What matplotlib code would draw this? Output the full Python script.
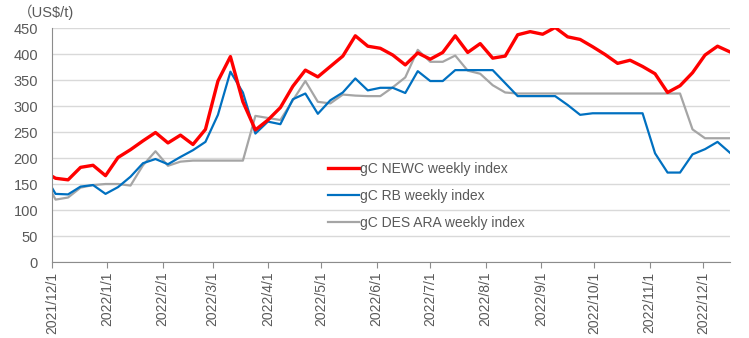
import numpy as np
import pandas as pd
import matplotlib
matplotlib.use('Agg')
import matplotlib.pyplot as plt
import matplotlib.dates as mdates
from matplotlib.ticker import FuncFormatter

plt.rcParams['font.family'] = ['Liberation Sans', 'DejaVu Sans']

# weekly index values (Fridays), first point falls just before the axis start
dates = pd.date_range('2021-11-26', '2022-12-16', freq='7D')

newc = [175, 161, 158, 182, 186, 166, 201, 216, 233, 249,
        229, 244, 226, 255, 348, 395, 308, 254, 273, 297,
        338, 369, 356, 376, 396, 435, 415, 411, 398, 379,
        402, 390, 403, 435, 403, 420, 392, 396, 437, 443,
        438, 451, 433, 428, 414, 399, 382, 388, 376, 362,
        326, 339, 364, 398, 415, 404]

rb = [172, 131, 130, 145, 148, 131, 144, 164, 190, 198,
      188, 202, 215, 231, 283, 366, 326, 247, 270, 265,
      313, 324, 285, 311, 326, 353, 330, 335, 335, 325,
      367, 348, 348, 369, 369, 369, 369, 344, 319, 319,
      319, 319, 302, 283, 286, 286, 286, 286, 286, 209,
      172, 172, 207, 217, 231, 210]

ara = [165, 120, 124, 143, 148, 150, 150, 147, 186, 213,
       185, 193, 195, 195, 195, 195, 195, 281, 277, 273,
       311, 348, 308, 305, 322, 320, 319, 319, 336, 355,
       408, 385, 385, 397, 368, 362, 340, 326, 324, 324,
       324, 324, 324, 324, 324, 324, 324, 324, 324, 324,
       324, 324, 255, 238, 238, 238]

labels = ['gC NEWC weekly index', 'gC RB weekly index', 'gC DES ARA weekly index']

fig = plt.figure(figsize=(7.49, 3.38), dpi=100)
ax = fig.add_axes([52/749, 1-262/338, (730-52)/749, (262-28)/338])

l3, = ax.plot(dates, ara, color='#A5A5A5', lw=1.6, label=labels[2])
l2, = ax.plot(dates, rb, color='#0070C0', lw=1.6, label=labels[1])
l1, = ax.plot(dates, newc, color='#FF0000', lw=2.4, label=labels[0])

ax.set_xlim(pd.Timestamp('2021-12-01'), pd.Timestamp('2022-12-16'))
ax.set_ylim(0, 450)
ax.set_yticks(np.arange(0, 451, 50))
ax.grid(axis='y', color='#D9D9D9', lw=1)
ax.set_axisbelow(True)

ax.xaxis.set_major_locator(mdates.MonthLocator(bymonthday=1))
ax.xaxis.set_major_formatter(FuncFormatter(
    lambda v, p: '{0.year}/{0.month}/{0.day}'.format(mdates.num2date(v))))
ax.tick_params(axis='x', rotation=90, labelsize=10, colors='#595959',
               length=4, color='#8C8C8C', direction='out', pad=3)
ax.tick_params(axis='y', labelsize=10.5, colors='#595959', length=0, pad=10)

for s in ['top', 'right']:
    ax.spines[s].set_visible(False)
for s in ['left', 'bottom']:
    ax.spines[s].set_color('#8C8C8C')

ax.legend(handles=[l1, l2, l3], loc='upper left', bbox_to_anchor=(0.399, 0.452),
          frameon=False, fontsize=10, handlelength=2.2, handletextpad=0.1,
          labelspacing=0.95, labelcolor='#595959', borderaxespad=0)

fig.text(18/749, 1-12/338, '（US$/t)', fontsize=10.5, color='#595959',
         va='center', ha='left', family=['Liberation Sans', 'Noto Sans CJK SC'])

fig.savefig('out.png', dpi=100)
